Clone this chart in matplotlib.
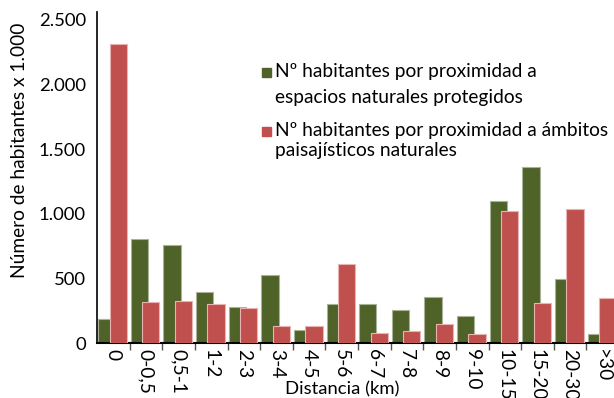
import matplotlib
matplotlib.use("Agg")
import matplotlib.pyplot as plt
import numpy as np
from matplotlib.patches import Rectangle

categories = ["0", "0-0,5", "0,5-1", "1-2", "2-3", "3-4", "4-5", "5-6", "6-7",
              "7-8", "8-9", "9-10", "10-15", "15-20", "20-30", ">30"]
protegidos = [185, 803, 761, 392, 276, 529, 103, 300, 304, 255, 356, 211,
              1099, 1362, 493, 67]
paisajisticos = [2314, 320, 327, 304, 268, 132, 132, 609, 80, 93, 145, 67,
                 1022, 312, 1035, 348]
yticks = [0, 500, 1000, 1500, 2000, 2500]
yticklabels = ["0", "500", "1.000", "1.500", "2.000", "2.500"]

plt.rcParams['font.family'] = ['Lato', 'DejaVu Sans']

fig = plt.figure(figsize=(6.14, 3.98), dpi=100)
ax = fig.add_axes([97/614, 55/398, 522/614, 331/398])

green = "#4f6228"
red = "#c0504d"
x = np.arange(len(categories))
w = 0.53
ax.bar(x - 0.2, protegidos, width=w, color=green, edgecolor="#aab39a",
       linewidth=0.8, zorder=2)
ax.bar(x + 0.15, paisajisticos, width=w, color=red, edgecolor="#e8b4b2",
       linewidth=0.8, zorder=3)

ax.set_xlim(-0.5, len(categories) - 0.5)
ax.set_ylim(0, 2560)
ax.set_yticks(yticks)
ax.set_yticklabels(yticklabels, fontsize=13.3)
ax.tick_params(axis='y', length=0, pad=8)

ax.set_xticks(x)
ax.set_xticklabels(categories, rotation=270, fontsize=13.8, va='top', ha='center')
ax.tick_params(axis='x', which='major', length=0, pad=4)
ax.set_xticks(np.arange(len(categories)) + 0.5, minor=True)
ax.tick_params(axis='x', which='minor', length=5, width=1, color="#555555")

for s in ['top', 'right']:
    ax.spines[s].set_visible(False)
ax.spines['left'].set_linewidth(1.2)
ax.spines['bottom'].set_linewidth(1.5)

fig.text(20/614, 1 - 150/398, "Número de habitantes x 1.000", rotation=90,
         fontsize=13.8, ha='center', va='center')
fig.text(342/614, 1 - 389/398, "Distancia (km)", fontsize=13.3,
         ha='center', va='center')

# legend
fs = 13.8
fig.patches.append(Rectangle((262/614, 1 - 77/398), 9/614, 9/398,
                             transform=fig.transFigure, color=green))
fig.text(275/614, 1 - 72/398, "Nº habitantes por proximidad a", fontsize=fs,
         va='center', ha='left')
fig.text(275/614, 1 - 97/398, "espacios naturales protegidos", fontsize=fs,
         va='center', ha='left')
fig.patches.append(Rectangle((262/614, 1 - 136/398), 9/614, 9/398,
                             transform=fig.transFigure, color=red))
fig.text(275/614, 1 - 131/398, "Nº habitantes por proximidad a ámbitos",
         fontsize=fs, va='center', ha='left')
fig.text(275/614, 1 - 151/398, "paisajísticos naturales", fontsize=fs,
         va='center', ha='left')

fig.savefig("out.png", dpi=100)
